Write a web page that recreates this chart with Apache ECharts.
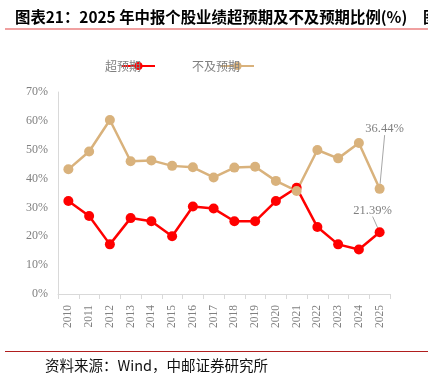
<!DOCTYPE html>
<html><head><meta charset="utf-8">
<script src="https://cdn.jsdelivr.net/npm/echarts@6/dist/echarts.min.js"></script>
<style>html,body{margin:0;padding:0;background:#fff}#c{width:428px;height:373px}</style>
</head><body><div id="c"></div>
<script>
const years = ['2010','2011','2012','2013','2014','2015','2016','2017','2018','2019','2020','2021','2022','2023','2024','2025'];
const beatRatio = [32.2,27.0,17.2,26.3,25.2,20.0,30.3,29.6,25.2,25.2,32.2,36.8,23.2,17.2,15.4,21.39];
const missRatio = [43.2,49.4,60.3,46.0,46.3,44.4,43.9,40.4,43.8,44.1,39.2,35.7,49.9,47.0,52.3,36.44];
const yTicks = [0,10,20,30,40,50,60,70];
const seriesNames = ['超预期','不及预期'];
const titleText = '图表21：2025 年中报个股业绩超预期及不及预期比例(%)';
const sourceText = '资料来源：Wind，中邮证券研究所';

const chart = echarts.init(document.getElementById('c'));
const serif = '"Liberation Serif", "Noto Sans CJK SC", serif';
const lastIdx = years.length - 1;
function lastLabel(arr){
  return arr.map((v,i)=> i===lastIdx ? {value:v, label:{show:true, formatter: v.toFixed(2)+'%', color:'#7f7f7f', fontFamily:serif, fontSize:12.5}} : v);
}
chart.setOption({
  animation:false,
  title:[
    {text:titleText, left:10, top:4, textStyle:{fontFamily:'"Noto Sans CJK SC"', fontWeight:'bold', fontSize:15.4, color:'#000'}},
    {text:'图', left:418, top:4, textStyle:{fontFamily:'"Noto Sans CJK SC"', fontWeight:'bold', fontSize:15.4, color:'#000'}},
    {text:sourceText, left:45, top:358, padding:0, textStyle:{fontFamily:'"Noto Sans CJK SC"', fontWeight:'normal', fontSize:14.5, color:'#111'}}
  ],
  graphic:[
    {type:'line', shape:{x1:5,y1:29,x2:428,y2:29}, style:{stroke:'#f0a0a0', lineWidth:2}},
    {type:'line', shape:{x1:5,y1:351.5,x2:428,y2:351.5}, style:{stroke:'#b01e1e', lineWidth:1}}
  ],
  legend:{
    top:55, left:100, itemGap:36, align:'right', itemWidth:33, itemHeight:10,
    textStyle:{color:'#808080', fontSize:12, fontFamily:'"Noto Sans CJK SC"', padding:[0,-24,0,0]},
    data:seriesNames
  },
  grid:{left:58, right:38, top:92, bottom:79},
  xAxis:{
    type:'category', data:years, boundaryGap:true,
    axisLine:{lineStyle:{color:'#d9d9d9', width:1}},
    axisTick:{show:true, length:5, lineStyle:{color:'#d9d9d9'}},
    axisLabel:{rotate:90, color:'#808080', fontFamily:serif, fontSize:11.5, margin:11}
  },
  yAxis:{
    type:'value', min:0, max:70, interval:10,
    axisLine:{show:true, lineStyle:{color:'#d9d9d9'}},
    axisTick:{show:false},
    splitLine:{show:false},
    axisLabel:{formatter:v=>v+'%', color:'#808080', fontFamily:serif, fontSize:12, margin:10}
  },
  series:[
    {name:seriesNames[0], type:'line', data:lastLabel(beatRatio), symbol:'circle', symbolSize:10,
     itemStyle:{color:'#ff0000'}, lineStyle:{color:'#ff0000', width:2.5},
     labelLine:{show:true, lineStyle:{color:'#a6a6a6', width:1}},
     labelLayout:function(p){ if(p.dataIndex!==lastIdx) return {}; return {x:p.rect.x+p.rect.width/2-7, y:p.rect.y+p.rect.height/2-22, align:'center', verticalAlign:'middle'}; }
    },
    {name:seriesNames[1], type:'line', data:lastLabel(missRatio), symbol:'circle', symbolSize:10,
     itemStyle:{color:'#d9b27c'}, lineStyle:{color:'#d9b27c', width:2.5},
     labelLine:{show:true, lineStyle:{color:'#a6a6a6', width:1}},
     labelLayout:function(p){ if(p.dataIndex!==lastIdx) return {}; return {x:p.rect.x+p.rect.width/2+5, y:p.rect.y+p.rect.height/2-60, align:'center', verticalAlign:'middle'}; }
    }
  ]
});
</script></body></html>
